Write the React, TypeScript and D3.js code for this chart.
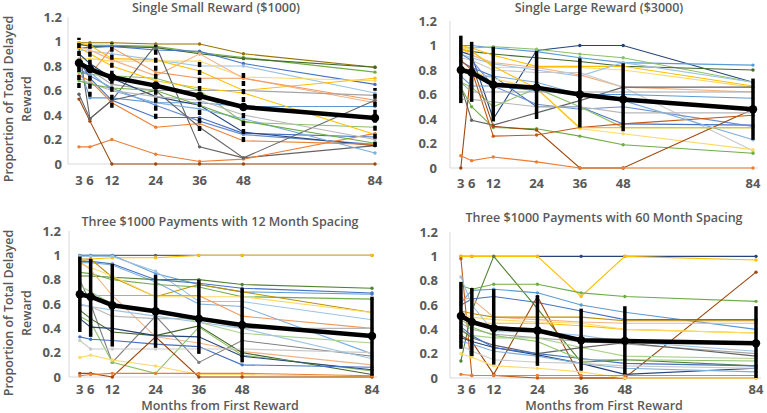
import React from 'react';
import * as d3 from 'd3';

// months after the first reward, shared by every panel
const months = [3, 6, 12, 24, 36, 48, 84];
const yTicks = [0, 0.2, 0.4, 0.6, 0.8, 1, 1.2];

const panelTitles = [
  'Single Small Reward ($1000)',
  'Single Large Reward ($3000)',
  'Three $1000 Payments with 12 Month Spacing',
  'Three $1000 Payments with 60 Month Spacing',
];

// --- Single small reward ---
const smallMean = [0.825, 0.775, 0.708, 0.64, 0.555, 0.465, 0.375];
const smallLow = [0.62, 0.55, 0.46, 0.37, 0.27, 0.18, 0.14];
const smallHigh = [1.03, 1.0, 0.99, 0.97, 0.85, 0.76, 0.62];
const smallPeople = [
  [0.99, 0.99, 0.99, 0.98, 0.98, 0.9, 0.79],
  [0.97, 0.97, 0.97, 0.96, 0.91, 0.87, 0.75],
  [0.98, 0.96, 0.96, 0.95, 0.9, 0.86, 0.79],
  [0.95, 0.95, 0.96, 0.93, 0.92, 0.82, 0.65],
  [0.93, 0.92, 0.9, 0.85, 0.8, 0.8, 0.58],
  [0.99, 0.97, 0.86, 0.85, 0.76, 0.6, 0.7],
  [0.86, 0.86, 0.84, 0.84, 0.84, 0.71, 0.68],
  [0.96, 0.93, 0.85, 0.72, 0.9, 0.7, 0.5],
  [0.75, 0.73, 0.95, 0.75, 0.7, 0.7, 0.52],
  [0.79, 0.77, 0.65, 0.6, 0.6, 0.6, 0.56],
  [0.75, 0.73, 0.72, 0.7, 0.6, 0.34, 0.3],
  [0.95, 0.37, 0.52, 0.97, 0.14, 0.05, 0.15],
  [0.8, 0.54, 0.54, 0.5, 0.5, 0.47, 0.47],
  [0.85, 0.7, 0.52, 0.38, 0.38, 0.25, 0.22],
  [0.78, 0.72, 0.62, 0.48, 0.35, 0.24, 0.16],
  [0.9, 0.82, 0.7, 0.55, 0.48, 0.26, 0.15],
  [0.82, 0.75, 0.6, 0.5, 0.45, 0.37, 0.09],
  [0.72, 0.68, 0.5, 0.3, 0.33, 0.19, 0.16],
  [0.14, 0.14, 0.2, 0.08, 0.02, 0.04, 0.25],
  [0.53, 0.35, 0.0, 0.0, 0.0, 0.0, 0.0],
  [0.57, 0.37, 0.52, 0.6, 0.3, 0.05, 0.52],
  [0.7, 0.66, 0.6, 0.55, 0.52, 0.4, 0.2],
  [0.68, 0.65, 0.62, 0.6, 0.48, 0.35, 0.17],
  [0.95, 0.9, 0.8, 0.68, 0.62, 0.58, 0.24],
];
const smallColors = [
  '#997300', '#70AD47', '#43682B', '#4472C4', '#9DC3E6', '#FFC000', '#FFD966', '#F4B183',
  '#F1975A', '#A5A5A5', '#8CC168', '#636363', '#5B9BD5', '#4472C4', '#698ED0', '#264478',
  '#7CAFDD', '#ED7D31', '#ED7D31', '#9E480E', '#636363', '#B7B7B7', '#70AD47', '#FFC000',
];

// --- Single large reward ---
const largeMean = [0.8, 0.78, 0.68, 0.656, 0.6, 0.56, 0.48];
const largeLow = [0.53, 0.54, 0.38, 0.4, 0.33, 0.3, 0.23];
const largeHigh = [1.08, 1.03, 0.99, 0.955, 0.895, 0.855, 0.73];
const largePeople = [
  [0.95, 0.92, 0.4, 0.96, 1.0, 1.0, 0.7],
  [1.0, 1.0, 0.98, 0.95, 0.9, 0.86, 0.84],
  [0.98, 0.98, 0.99, 0.97, 0.93, 0.9, 0.7],
  [0.97, 0.95, 0.93, 0.9, 0.87, 0.83, 0.8],
  [1.0, 0.98, 0.92, 0.83, 0.83, 0.83, 0.67],
  [0.99, 0.96, 0.82, 0.82, 0.82, 0.8, 0.66],
  [0.93, 0.9, 0.85, 0.8, 0.75, 0.86, 0.7],
  [0.98, 0.92, 0.86, 0.82, 0.76, 0.66, 0.62],
  [0.9, 0.88, 0.8, 0.78, 0.78, 0.66, 0.14],
  [0.87, 0.82, 0.75, 0.5, 0.5, 0.36, 0.35],
  [0.93, 0.88, 0.67, 0.52, 0.48, 0.5, 0.34],
  [0.67, 0.39, 0.35, 0.45, 0.55, 0.66, 0.66],
  [0.66, 0.5, 0.33, 0.32, 0.26, 0.19, 0.12],
  [0.7, 0.66, 0.5, 0.65, 0.5, 0.33, 0.33],
  [0.82, 0.79, 0.73, 0.65, 0.32, 0.28, 0.15],
  [0.0, 0.85, 0.34, 0.31, 0.0, 0.0, 0.48],
  [0.1, 0.06, 0.09, 0.05, 0.0, 0.0, 0.0],
  [0.88, 0.8, 0.26, 0.27, 0.33, 0.36, 0.43],
  [0.56, 0.56, 0.54, 0.5, 0.5, 0.45, 0.45],
  [0.8, 0.75, 0.75, 0.7, 0.6, 0.55, 0.23],
  [0.97, 0.95, 0.83, 0.65, 0.33, 0.33, 0.33],
  [0.75, 0.67, 0.67, 0.63, 0.6, 0.6, 0.57],
  [0.7, 0.62, 0.62, 0.62, 0.62, 0.62, 0.62],
];
const largeColors = [
  '#264478', '#5B9BD5', '#8CC168', '#43682B', '#FFC000', '#FFD966', '#9DC3E6', '#F4B183',
  '#C9C9C9', '#4472C4', '#698ED0', '#636363', '#70AD47', '#8CC168', '#FFD966', '#9E480E',
  '#ED7D31', '#C55A11', '#B7B7B7', '#7CAFDD', '#FFC000', '#5B9BD5', '#A5A5A5',
];

// --- Three payments, 12 month spacing ---
const spaced12Mean = [0.68, 0.66, 0.59, 0.54, 0.48, 0.427, 0.337];
const spaced12Low = [0.37, 0.33, 0.25, 0.24, 0.19, 0.12, 0.01];
const spaced12High = [0.99, 0.97, 0.93, 0.84, 0.8, 0.73, 0.66];
const spaced12People = [
  [1.0, 1.0, 1.0, 1.0, 1.0, 1.0, 1.0],
  [0.95, 0.97, 0.98, 0.98, 1.0, 1.0, 1.0],
  [1.0, 1.0, 1.0, 0.85, 0.76, 0.7, 0.68],
  [0.99, 0.99, 0.99, 0.87, 0.62, 0.62, 0.47],
  [0.95, 0.95, 0.93, 0.8, 0.77, 0.73, 0.69],
  [0.94, 0.94, 0.92, 0.78, 0.6, 0.58, 0.19],
  [0.83, 0.83, 0.82, 0.8, 0.8, 0.76, 0.73],
  [0.86, 0.85, 0.8, 0.76, 0.74, 0.66, 0.64],
  [0.97, 0.97, 0.82, 0.66, 0.76, 0.7, 0.53],
  [0.93, 0.9, 0.83, 0.66, 0.66, 0.66, 0.53],
  [0.95, 0.88, 0.67, 0.33, 0.28, 0.21, 0.1],
  [0.67, 0.67, 0.67, 0.67, 0.67, 0.5, 0.4],
  [0.59, 0.58, 0.5, 0.48, 0.48, 0.4, 0.4],
  [0.8, 0.6, 0.12, 0.5, 0.12, 0.3, 0.17],
  [0.75, 0.7, 0.6, 0.55, 0.45, 0.36, 0.28],
  [0.55, 0.48, 0.37, 0.34, 0.42, 0.2, 0.02],
  [0.5, 0.45, 0.12, 0.03, 0.41, 0.18, 0.05],
  [0.48, 0.41, 0.4, 0.34, 0.33, 0.17, 0.06],
  [0.33, 0.31, 0.3, 0.27, 0.25, 0.1, 0.08],
  [0.3, 0.23, 0.23, 0.23, 0.23, 0.23, 0.2],
  [0.16, 0.18, 0.14, 0.09, 0.02, 0.02, 0.0],
  [0.03, 0.03, 0.0, 0.33, 0.0, 0.0, 0.0],
  [0.01, 0.02, 0.03, 0.03, 0.03, 0.03, 0.01],
  [0.6, 0.58, 0.55, 0.5, 0.45, 0.4, 0.15],
];
const spaced12Colors = [
  '#636363', '#FFC000', '#5B9BD5', '#9DC3E6', '#4472C4', '#7CAFDD', '#548235', '#70AD47',
  '#BF9000', '#FFD966', '#F4B183', '#F1975A', '#B7B7B7', '#7F7F7F', '#A9D18E', '#43682B',
  '#8CC168', '#264478', '#4472C4', '#C9C9C9', '#FFD966', '#9E480E', '#ED7D31', '#9DC3E6',
];

// --- Three payments, 60 month spacing ---
const spaced60Mean = [0.51, 0.46, 0.41, 0.39, 0.31, 0.305, 0.285];
const spaced60Low = [0.24, 0.18, 0.11, 0.1, 0.06, 0.03, 0.0];
const spaced60High = [0.79, 0.74, 0.73, 0.68, 0.57, 0.59, 0.59];
const spaced60People = [
  [1.0, 1.0, 1.0, 1.0, 1.0, 1.0, 1.0],
  [1.0, 1.0, 1.0, 1.0, 0.67, 1.0, 0.97],
  [0.14, 0.55, 1.0, 0.57, 0.13, 0.15, 0.1],
  [0.76, 0.73, 0.77, 0.77, 0.7, 0.67, 0.63],
  [0.62, 0.72, 0.73, 0.7, 0.6, 0.54, 0.4],
  [0.6, 0.65, 0.67, 0.62, 0.55, 0.48, 0.48],
  [0.98, 0.02, 0.02, 0.0, 0.0, 0.0, 0.0],
  [0.35, 0.3, 0.03, 0.67, 0.0, 0.0, 0.87],
  [0.66, 0.65, 0.5, 0.48, 0.46, 0.45, 0.45],
  [0.55, 0.53, 0.5, 0.5, 0.5, 0.47, 0.47],
  [0.5, 0.45, 0.45, 0.45, 0.43, 0.4, 0.37],
  [0.53, 0.5, 0.48, 0.46, 0.45, 0.4, 0.37],
  [0.83, 0.6, 0.38, 0.38, 0.35, 0.3, 0.22],
  [0.45, 0.4, 0.36, 0.33, 0.3, 0.28, 0.2],
  [0.38, 0.35, 0.33, 0.33, 0.25, 0.18, 0.16],
  [0.4, 0.33, 0.27, 0.2, 0.25, 0.29, 0.18],
  [0.33, 0.3, 0.25, 0.19, 0.12, 0.03, 0.08],
  [0.42, 0.35, 0.25, 0.2, 0.16, 0.12, 0.1],
  [0.3, 0.28, 0.22, 0.18, 0.12, 0.08, 0.05],
  [0.2, 0.17, 0.1, 0.08, 0.05, 0.0, 0.0],
  [0.03, 0.02, 0.02, 0.02, 0.02, 0.02, 0.02],
  [0.27, 0.22, 0.15, 0.13, 0.12, 0.1, 0.08],
  [0.48, 0.42, 0.35, 0.3, 0.15, 0.15, 0.14],
];
const spaced60Colors = [
  '#264478', '#FFC000', '#548235', '#70AD47', '#5B9BD5', '#4472C4', '#C55A11', '#9E480E',
  '#F4B183', '#BF9000', '#FFC000', '#FFD966', '#9DC3E6', '#A5A5A5', '#A9D18E', '#636363',
  '#264478', '#4472C4', '#7CAFDD', '#FFD966', '#ED7D31', '#C9C9C9', '#8CC168',
];

const panelData = [
  { mean: smallMean, low: smallLow, high: smallHigh, people: smallPeople, colors: smallColors },
  { mean: largeMean, low: largeLow, high: largeHigh, people: largePeople, colors: largeColors },
  { mean: spaced12Mean, low: spaced12Low, high: spaced12High, people: spaced12People, colors: spaced12Colors },
  { mean: spaced60Mean, low: spaced60Low, high: spaced60High, people: spaced60People, colors: spaced60Colors },
];

// pixel frame of each panel: x range for months 0..84, y range for 0..1.2
const frames = [
  { x0: 68, x1: 375, yb: 164, yt: 17, titleX: 216, titleY: 12, labelX: 62, tickY: 185, dash: '5,3', xTitle: false },
  { x0: 450, x1: 753, yb: 168, yt: 21, titleX: 599, titleY: 12, labelX: 437, tickY: 188, dash: null, xTitle: false },
  { x0: 69, x1: 372, yb: 377, yt: 231, titleX: 220, titleY: 226, labelX: 61, tickY: 394, dash: null, xTitle: true },
  { x0: 450, x1: 756, yb: 378, yt: 232, titleX: 604, titleY: 222, labelX: 438, tickY: 394, dash: null, xTitle: true },
];

const textColor = '#595959';
const font = '"Open Sans", "Liberation Sans", sans-serif';

function Panel({ idx }: { idx: number }) {
  const f = frames[idx];
  const d = panelData[idx];
  const x = d3.scaleLinear().domain([0, 84]).range([f.x0, f.x1]);
  const y = d3.scaleLinear().domain([0, 1.2]).range([f.yb, f.yt]);
  const line = d3
    .line<number>()
    .x((_, i) => x(months[i]))
    .y(v => y(v));

  return (
    <g>
      <text x={f.titleX} y={f.titleY} textAnchor="middle" fontSize={12.5} fontWeight={600} fill={textColor}>
        {panelTitles[idx]}
      </text>
      {/* axes */}
      <line x1={f.x0} x2={f.x0} y1={y(0)} y2={y(1.2)} stroke="#D9D9D9" />
      <line x1={f.x0} x2={f.x1 + 5} y1={y(0)} y2={y(0)} stroke="#D9D9D9" />
      {yTicks.map(t => (
        <text key={t} x={f.labelX} y={y(t)} dy="0.35em" textAnchor="end" fontSize={13} fontWeight={700} fill={textColor}>
          {t === 0 || t === 1 ? String(t) : t.toFixed(1)}
        </text>
      ))}
      {months.map(m => (
        <text key={m} x={x(m)} y={f.tickY} textAnchor="middle" fontSize={13} fontWeight={700} fill={textColor}>
          {m}
        </text>
      ))}
      {/* individual participants */}
      {d.people.map((p, i) => (
        <g key={i}>
          <path d={line(p) || ''} fill="none" stroke={d.colors[i % d.colors.length]} strokeWidth={1.1} />
          {p.map((v, j) => (
            <circle key={j} cx={x(months[j])} cy={y(v)} r={1.7} fill={d.colors[i % d.colors.length]} />
          ))}
        </g>
      ))}
      {/* error bars */}
      {months.map((m, i) => (
        <line
          key={m}
          x1={x(m)}
          x2={x(m)}
          y1={y(d.low[i])}
          y2={y(d.high[i])}
          stroke="#000"
          strokeWidth={3.5}
          strokeDasharray={f.dash || undefined}
        />
      ))}
      {/* group mean */}
      <path d={line(d.mean) || ''} fill="none" stroke="#000" strokeWidth={4.5} strokeLinejoin="round" />
      {d.mean.map((v, i) => (
        <circle key={i} cx={x(months[i])} cy={y(v)} r={4.2} fill="#000" />
      ))}
      {f.xTitle && (
        <text x={f.titleX} y={409.5} textAnchor="middle" fontSize={12.5} fontWeight={600} fill={textColor}>
          Months from First Reward
        </text>
      )}
    </g>
  );
}

export default function App() {
  return (
    <svg
      width={767}
      height={413}
      style={{ position: 'absolute', left: 0, top: 0, background: '#fff', fontFamily: font }}
    >
      {[0, 1, 2, 3].map(i => (
        <Panel key={i} idx={i} />
      ))}
      {[99, 313].map(cy => (
        <g key={cy}>
          <text transform={`translate(13,${cy}) rotate(-90)`} textAnchor="middle" fontSize={12.5} fontWeight={600} fill={textColor}>
            Proportion of Total Delayed
          </text>
          <text transform={`translate(31,${cy}) rotate(-90)`} textAnchor="middle" fontSize={12.5} fontWeight={600} fill={textColor}>
            Reward
          </text>
        </g>
      ))}
    </svg>
  );
}
